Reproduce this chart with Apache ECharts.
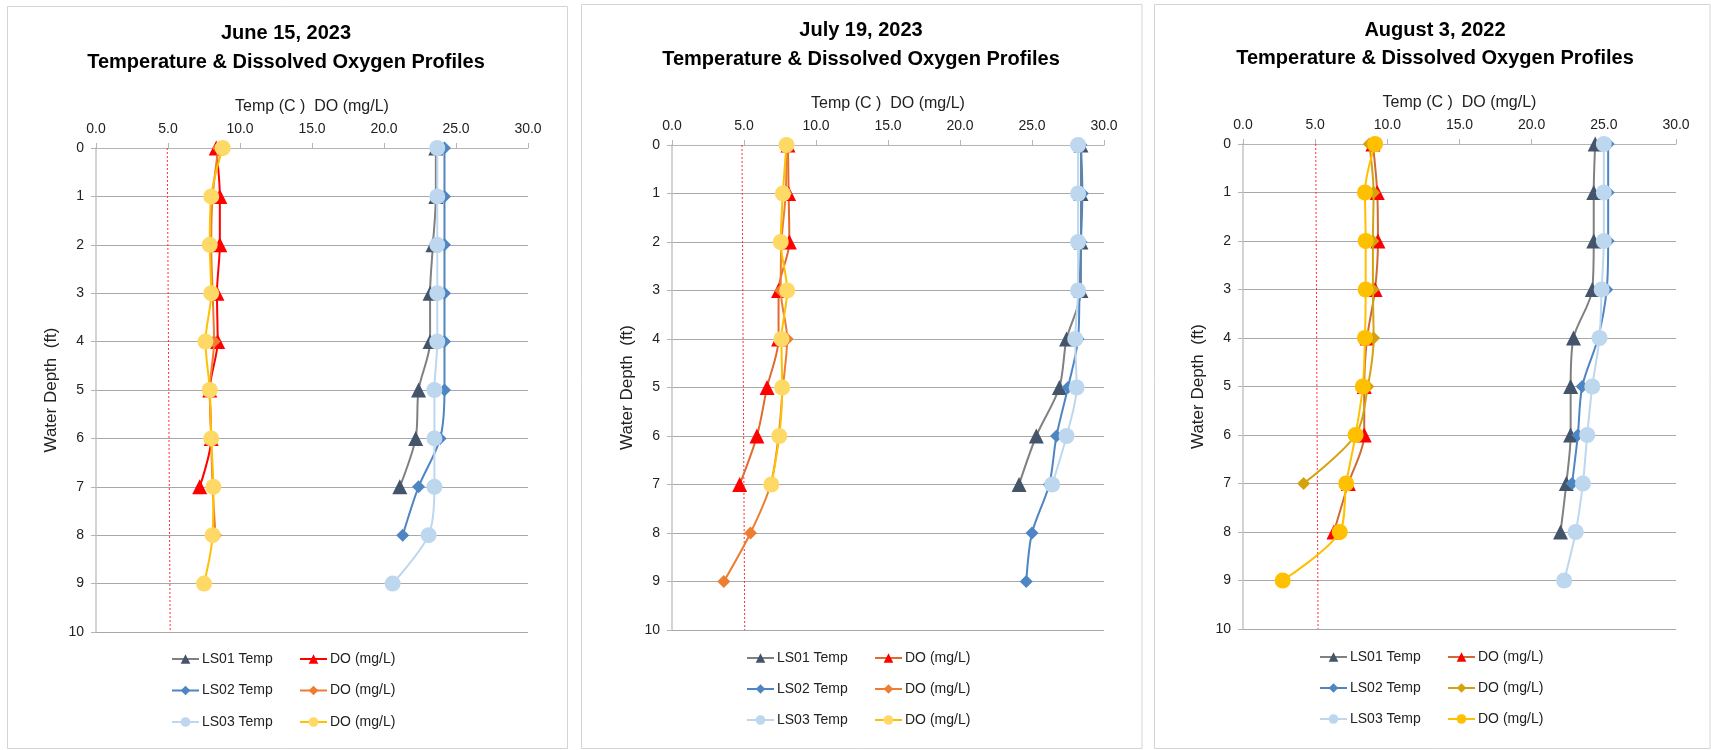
<!DOCTYPE html>
<html>
<head>
<meta charset="utf-8">
<script src="https://cdn.jsdelivr.net/npm/echarts@6/dist/echarts.min.js"></script>
<style>
html,body{margin:0;padding:0;background:#ffffff;}
#chart{width:1711px;height:750px;}
</style>
</head>
<body>
<div id="chart"></div>
<script>
// ---------------- DATA ----------------
const depths = [0, 1, 2, 3, 4, 5, 6, 7, 8, 9];
const limitDepths = [0, 10];

const panelTitles = [
  'June 15, 2023\nTemperature & Dissolved Oxygen Profiles',
  'July 19, 2023\nTemperature & Dissolved Oxygen Profiles',
  'August 3, 2022\nTemperature & Dissolved Oxygen Profiles'
];
const xAxisName = 'Temp (C )  DO (mg/L)';
const yAxisName = 'Water Depth  (ft)';
const seriesLabels = ['LS01 Temp', 'DO (mg/L)', 'LS02 Temp', 'DO (mg/L)', 'LS03 Temp', 'DO (mg/L)'];

// June 15, 2023
const junLS01Temp = [23.6, 23.6, 23.4, 23.2, 23.2, 22.4, 22.2, 21.1];
const junLS01DO   = [8.35, 8.6, 8.6, 8.4, 8.45, 7.9, 8.0, 7.2];
const junLS02Temp = [24.2, 24.2, 24.2, 24.2, 24.2, 24.2, 23.9, 22.4, 21.3];
const junLS02DO   = [8.5, 8.1, 8.0, 8.1, 8.2, 7.9, 8.0, 8.1, 8.3];
const junLS03Temp = [23.7, 23.7, 23.7, 23.7, 23.7, 23.5, 23.5, 23.5, 23.1, 20.6];
const junLS03DO   = [8.8, 8.0, 7.9, 8.0, 7.6, 7.9, 8.0, 8.15, 8.1, 7.5];
const junLimit    = [4.95, 5.15];

// July 19, 2023
const julLS01Temp = [28.4, 28.4, 28.4, 28.4, 27.4, 26.9, 25.3, 24.1];
const julLS01DO   = [8.05, 8.1, 8.15, 7.4, 7.4, 6.6, 5.9, 4.7];
const julLS02Temp = [28.4, 28.5, 28.4, 28.3, 28.2, 27.5, 26.7, 26.2, 25.0, 24.6];
const julLS02DO   = [7.95, 7.9, 7.6, 7.55, 8.0, 7.7, 7.4, 6.85, 5.45, 3.6];
const julLS03Temp = [28.2, 28.2, 28.2, 28.2, 28.0, 28.1, 27.4, 26.4];
const julLS03DO   = [7.95, 7.7, 7.55, 8.0, 7.6, 7.65, 7.45, 6.9];
const julLimit    = [4.86, 5.05];

// August 3, 2022
const augLS01Temp = [24.4, 24.3, 24.3, 24.2, 22.9, 22.7, 22.7, 22.4, 22.0];
const augLS01DO   = [9.0, 9.3, 9.35, 9.15, 8.6, 8.4, 8.4, 7.3, 6.3];
const augLS02Temp = [25.3, 25.3, 25.3, 25.2, 24.6, 23.5, 23.2, 22.8];
const augLS02DO   = [8.75, 9.05, 9.0, 9.0, 9.05, 8.65, 7.8, 4.2];
const augLS03Temp = [25.0, 25.0, 25.0, 24.85, 24.7, 24.2, 23.85, 23.55, 23.05, 22.25];
const augLS03DO   = [9.15, 8.45, 8.5, 8.5, 8.45, 8.3, 7.8, 7.15, 6.7, 2.75];
const augLimit    = [5.04, 5.2];

// ---------------- LAYOUT / STYLE ----------------
const panels = [
  { key: 'jun', series: [junLS01Temp, junLS01DO, junLS02Temp, junLS02DO, junLS03Temp, junLS03DO], limit: junLimit,
    frame: [7.5, 6.5, 560, 742], titleX: 286, titleY: 18.5, titleLH: 29,
    grid: { left: 96, top: 148, width: 432, height: 484 },
    legendX: [171, 299], legendY: 652, legendGap: 17.5,
    lineColors: ['#808080', '#ff0000', '#4e85c3', '#ed7d31', '#bdd7ee', '#ffc000'],
    markColors: ['#44546a', '#ff0000', '#4e85c3', '#ed7d31', '#bdd7ee', '#ffd966'] },
  { key: 'jul', series: [julLS01Temp, julLS01DO, julLS02Temp, julLS02DO, julLS03Temp, julLS03DO], limit: julLimit,
    frame: [581.5, 4.5, 560.5, 744], titleX: 861, titleY: 16.5, titleLH: 28.5,
    grid: { left: 672, top: 145, width: 432, height: 485 },
    legendX: [746, 874], legendY: 651, legendGap: 17,
    lineColors: ['#808080', '#e2692f', '#4e85c3', '#ed7d31', '#bdd7ee', '#ffc000'],
    markColors: ['#44546a', '#ff0000', '#4e85c3', '#ed7d31', '#bdd7ee', '#ffd966'] },
  { key: 'aug', series: [augLS01Temp, augLS01DO, augLS02Temp, augLS02DO, augLS03Temp, augLS03DO], limit: augLimit,
    frame: [1154.5, 4.5, 555.5, 744], titleX: 1435, titleY: 17, titleLH: 27.5,
    grid: { left: 1243, top: 144, width: 433, height: 485 },
    legendX: [1319, 1447], legendY: 650, legendGap: 17,
    lineColors: ['#808080', '#cf6a35', '#4e85c3', '#d4a20f', '#bdd7ee', '#ffc000'],
    markColors: ['#44546a', '#ff0000', '#4e85c3', '#d4a20f', '#bdd7ee', '#ffc000'] }
];
const symbols = ['triangle', 'triangle', 'diamond', 'diamond', 'circle', 'circle'];
const symbolSizes = [15, 15, 13, 13, 16, 16];

const FONT = '"Liberation Sans", Arial, sans-serif';
const TXT = '#222222';

const option = {
  backgroundColor: '#ffffff',
  animation: false,
  title: [], grid: [], xAxis: [], yAxis: [], legend: [], series: [],
  graphic: []
};

panels.forEach((p, pi) => {
  option.graphic.push({
    type: 'rect', silent: true, z: -10,
    shape: { x: p.frame[0], y: p.frame[1], width: p.frame[2], height: p.frame[3] },
    style: { fill: 'none', stroke: '#d4d4d4', lineWidth: 1 }
  });
  option.title.push({
    text: panelTitles[pi], left: p.titleX, top: p.titleY, textAlign: 'center', padding: 0,
    textStyle: { fontFamily: FONT, fontSize: 20, fontWeight: 'bold', color: '#000000', lineHeight: p.titleLH }
  });
  option.grid.push(Object.assign({ containLabel: false }, p.grid));
  option.xAxis.push({
    gridIndex: pi, type: 'value', position: 'top', min: 0, max: 30, interval: 5,
    name: xAxisName, nameLocation: 'middle', nameGap: 33,
    nameTextStyle: { fontFamily: FONT, fontSize: 16, color: TXT },
    axisLine: { show: true, lineStyle: { color: '#b4b4b4', width: 1 } },
    axisTick: { show: true, inside: false, length: 5, lineStyle: { color: '#b4b4b4' } },
    axisLabel: { margin: 12, fontFamily: FONT, fontSize: 14, color: TXT, formatter: v => v.toFixed(1) },
    splitLine: { show: false }
  });
  option.yAxis.push({
    gridIndex: pi, type: 'value', inverse: true, min: 0, max: 10, interval: 1,
    name: yAxisName, nameLocation: 'middle', nameGap: 36, nameRotate: 90,
    nameTextStyle: { fontFamily: FONT, fontSize: 17, color: TXT },
    axisLine: { show: true, lineStyle: { color: '#c4c4c4', width: 1.5 } },
    axisTick: { show: true, inside: false, length: 5, lineStyle: { color: '#b4b4b4' } },
    axisLabel: { margin: 12, fontFamily: FONT, fontSize: 14, color: TXT },
    splitLine: { show: true, lineStyle: { color: '#a8a8a8', width: 1 } }
  });
  // DO 5 mg/L reference line
  option.series.push({
    name: p.key + '|limit', type: 'line', xAxisIndex: pi, yAxisIndex: pi,
    data: p.limit.map((v, i) => [v, limitDepths[i]]),
    symbol: 'none', silent: true, z: 1,
    lineStyle: { color: '#ff3030', width: 1, type: [2, 2] }
  });
  const names = [];
  p.series.forEach((vals, si) => {
    const nm = p.key + '|' + si + '|' + seriesLabels[si];
    names.push(nm);
    option.series.push({
      name: nm, type: 'line', xAxisIndex: pi, yAxisIndex: pi,
      data: vals.map((v, i) => [v, depths[i]]),
      smooth: 0.3,
      symbol: symbols[si], symbolSize: symbolSizes[si],
      lineStyle: { color: p.lineColors[si], width: 2 },
      itemStyle: { color: p.markColors[si], borderWidth: 0 },
      z: 2 + si * 0.01
    });
  });
  [0, 1].forEach(col => {
    option.legend.push({
      orient: 'vertical', left: p.legendX[col], top: p.legendY, padding: 0,
      itemWidth: 27, itemHeight: 12, itemGap: p.legendGap, selectedMode: false,
      data: [names[col], names[col + 2], names[col + 4]],
      formatter: n => n.split('|')[2],
      textStyle: { fontFamily: FONT, fontSize: 14, color: TXT, padding: [0, 0, 0, -2], lineHeight: 14 }
    });
  });
});

const chart = echarts.init(document.getElementById('chart'), null, { renderer: 'canvas' });
chart.setOption(option);
</script>
</body>
</html>
